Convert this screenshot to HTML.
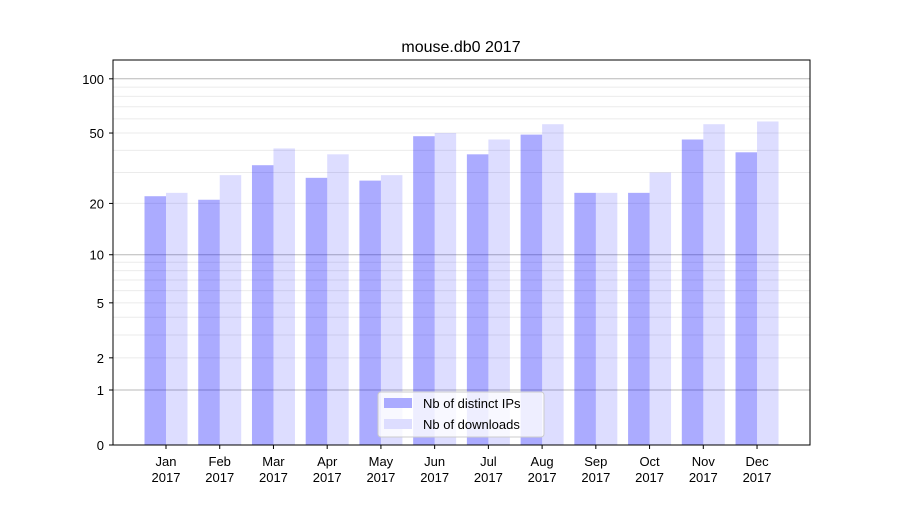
<!DOCTYPE html>
<html><head><meta charset="utf-8"><style>
body{margin:0;background:#fff;font-family:"Liberation Sans","DejaVu Sans",sans-serif;}
</style></head><body>
<svg id="chart" width="900" height="500" xmlns="http://www.w3.org/2000/svg" font-family="Liberation Sans, DejaVu Sans, sans-serif">
<rect width="900" height="500" fill="#fff"/>
<text x="461" y="52" text-anchor="middle" font-size="16">mouse.db0 2017</text>
<g id="grid"></g><g id="bars"></g><g id="axes"></g>
<rect x="113" y="60" width="697" height="385" fill="none" stroke="#000" stroke-width="1"/>
<g>
<rect x="378" y="392" width="166" height="45" rx="3" fill="#fff" fill-opacity="0.8" stroke="#ccc"/>
<rect x="384" y="398" width="28" height="10" fill="#aaaaff"/>
<text x="423" y="408" font-size="13">Nb of distinct IPs</text>
<rect x="384" y="419" width="28" height="10" fill="#ddddff"/>
<text x="423" y="429" font-size="13">Nb of downloads</text>
</g>
</svg>
<script>
const months=["Jan","Feb","Mar","Apr","May","Jun","Jul","Aug","Sep","Oct","Nov","Dec"];
const ips=[22,21,33,28,27,48,38,49,23,23,46,39];
const downloads=[23,29,41,38,29,50,46,56,23,30,56,58];
const yTicks=[0,1,2,5,10,20,50,100];
const NS="http://www.w3.org/2000/svg";
function y(v){return 445-182.7*Math.log10(1+v);}
function x(i){return 166+i*53.73;}
function mk(tag,attrs,parent){const e=document.createElementNS(NS,tag);for(const k in attrs)e.setAttribute(k,attrs[k]);document.getElementById(parent).appendChild(e);return e;}
const minors=[2,3,4,5,6,7,8,9,20,30,40,50,60,70,80,90];
minors.forEach(v=>{const l=mk("line",{x1:113,x2:810,y1:y(v),y2:y(v),stroke:"#ebebeb","stroke-width":1},"grid");

});
[1,10,100].forEach(v=>{const l=mk("line",{x1:113,x2:810,y1:y(v),y2:y(v),stroke:"#b8b8b8","stroke-width":1},"grid");

});
months.forEach((m,i)=>{
const b1=mk("rect",{x:x(i)-21.5,y:y(ips[i]),width:21.5,height:445-y(ips[i]),fill:"#0000ff","fill-opacity":0.33},"bars");


const b2=mk("rect",{x:x(i),y:y(downloads[i]),width:21.5,height:445-y(downloads[i]),fill:"#0000ff","fill-opacity":0.135},"bars");


mk("line",{x1:x(i),x2:x(i),y1:445,y2:449,stroke:"#000"},"axes");
const t1=mk("text",{x:x(i),y:466,"text-anchor":"middle","font-size":13},"axes");t1.textContent=m;


const t2=mk("text",{x:x(i),y:482,"text-anchor":"middle","font-size":13},"axes");t2.textContent="2017";


});
yTicks.forEach(v=>{
mk("line",{x1:109,x2:113,y1:y(v),y2:y(v),stroke:"#000"},"axes");
const t=mk("text",{x:104,y:y(v)+5,"text-anchor":"end","font-size":13},"axes");t.textContent=v;


});
</script>
</body></html>
